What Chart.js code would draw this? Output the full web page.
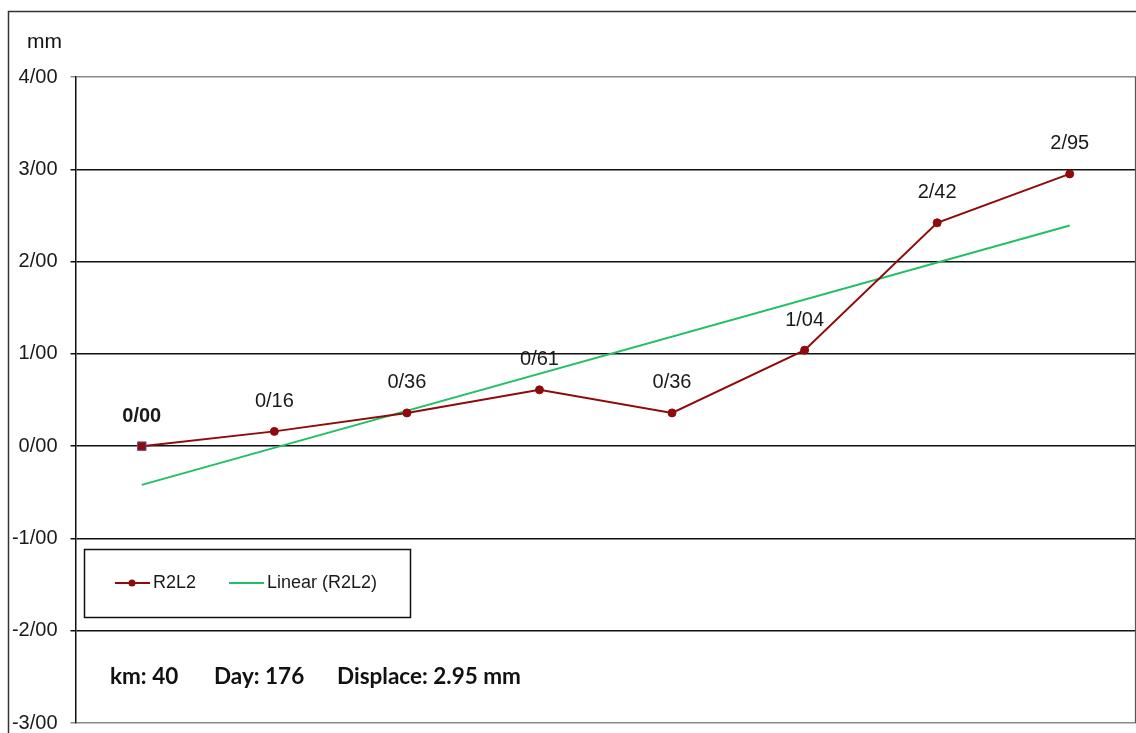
<!DOCTYPE html>
<html>
<head>
<meta charset="utf-8">
<script src="https://cdn.jsdelivr.net/npm/chart.js@4/dist/chart.umd.min.js"></script>
<style>
  html, body { margin: 0; padding: 0; background: #fff; }
  #wrap { position: relative; width: 1136px; height: 733px; }
</style>
</head>
<body>
<div id="wrap"><canvas id="myChart" width="1136" height="733"></canvas></div>
<script>
// data
const stations = ['1', '2', '3', '4', '5', '6', '7', '8']
const r2l2 = [0.00, 0.16, 0.36, 0.61, 0.36, 1.04, 2.42, 2.95]
// trend line ends (Linear R2L2)
const trend = [-0.42, null, null, null, null, null, null, 2.39]
const yTicks = [-3, -2, -1, 0, 1, 2, 3, 4]
const footer = ['km: 40', 'Day: 176', 'Displace: 2.95 mm']

const darkRed = '#8f0a0a'
const green = '#22c065'
const sans = '"Liberation Sans", Arial, sans-serif'

function slashNum(v){
    return v.toFixed(2).replace('.', '/')
}

const extras = {
    id: 'extras',
    beforeDraw(chart){
        const c = chart.ctx
        c.save()
        c.fillStyle = '#fff'
        c.fillRect(0, 0, chart.width, chart.height)
        // outer frame
        c.strokeStyle = '#333'
        c.lineWidth = 1.5
        c.beginPath()
        c.moveTo(8.5, 740)
        c.lineTo(8.5, 11.5)
        c.lineTo(1140, 11.5)
        c.stroke()
        // unit
        c.fillStyle = '#111'
        c.font = '21px ' + sans
        c.textBaseline = 'middle'
        c.fillText('mm', 27, 42)
        c.restore()
    },
    afterDatasetsDraw(chart){
        const c = chart.ctx
        const a = chart.chartArea
        c.save()
        // right border of the plot area
        c.strokeStyle = '#555'
        c.lineWidth = 1.2
        c.beginPath()
        c.moveTo(a.right - 0.5, a.top)
        c.lineTo(a.right - 0.5, a.bottom)
        c.stroke()

        // value labels
        const meta = chart.getDatasetMeta(0)
        c.textAlign = 'center'
        c.textBaseline = 'middle'
        c.fillStyle = '#1a1a1a'
        meta.data.forEach((pt, i) => {
            c.font = (i === 0 ? 'bold ' : '') + '20px ' + sans
            c.fillText(slashNum(r2l2[i]), pt.x, pt.y - 30)
        })

        // legend box
        c.fillStyle = '#fff'
        c.fillRect(84, 549, 326, 68)
        c.strokeStyle = '#111'
        c.lineWidth = 1.5
        c.strokeRect(84.5, 549.5, 326, 68)
        const ly = 583
        c.strokeStyle = darkRed
        c.lineWidth = 2
        c.beginPath(); c.moveTo(115, ly); c.lineTo(150, ly); c.stroke()
        c.fillStyle = darkRed
        c.beginPath(); c.arc(132, ly, 3.5, 0, Math.PI * 2); c.fill()
        c.strokeStyle = green
        c.beginPath(); c.moveTo(229, ly); c.lineTo(264, ly); c.stroke()
        c.fillStyle = '#1a1a1a'
        c.font = '18px ' + sans
        c.textAlign = 'left'
        c.fillText('R2L2', 153, ly)
        c.fillText('Linear (R2L2)', 267, ly)

        // footer
        c.font = 'bold 22.5px Lato, "Open Sans", sans-serif'
        c.fillStyle = '#111'
        c.fillText(footer[0], 110, 677)
        c.fillText(footer[1], 214, 677)
        c.fillText(footer[2], 337, 677)
        c.restore()
    }
}

var ctx = document.getElementById('myChart').getContext('2d')
const chart = new Chart(ctx, {
    type: 'line',
    data: {
        labels: stations,
        datasets: [
            {
                label: 'R2L2',
                data: r2l2,
                borderColor: darkRed,
                backgroundColor: darkRed,
                borderWidth: 2,
                pointRadius: r2l2.map((v, i) => i === 0 ? 6 : 4),
                pointStyle: r2l2.map((v, i) => i === 0 ? 'rect' : 'circle'),
                pointBorderColor: r2l2.map((v, i) => i === 0 ? '#6a4aa8' : darkRed),
                pointBorderWidth: 1,
                tension: 0,
                order: 0
            },
            {
                label: 'Linear (R2L2)',
                data: trend,
                borderColor: green,
                borderWidth: 2,
                pointRadius: 0,
                spanGaps: true,
                tension: 0,
                order: 1
            }
        ]
    },
    options: {
        responsive: false,
        animation: false,
        layout: { autoPadding: false, padding: { left: 0, right: 0, top: 77, bottom: 10 } },
        plugins: {
            legend: { display: false },
            tooltip: { enabled: false }
        },
        scales: {
            x: {
                display: false,
                offset: true
            },
            y: {
                min: -3,
                max: 4,
                afterFit(scale){
                    scale.width = 75.5
                    scale.paddingTop = 0
                    scale.paddingBottom = 0
                },
                afterBuildTicks(scale){ scale.ticks = yTicks.map(v => ({ value: v })) },
                border: { color: '#111', width: 1.5 },
                grid: {
                    color: c => (c.tick && (c.tick.value === 4 || c.tick.value === -3)) ? '#8a8a8a' : '#111',
                    lineWidth: 1.5,
                    tickLength: 5,
                    drawTicks: true
                },
                ticks: {
                    padding: 13,
                    color: '#1a1a1a',
                    font: { family: sans, size: 20 },
                    callback: v => slashNum(v)
                }
            }
        }
    },
    plugins: [extras]
})
</script>
</body>
</html>
